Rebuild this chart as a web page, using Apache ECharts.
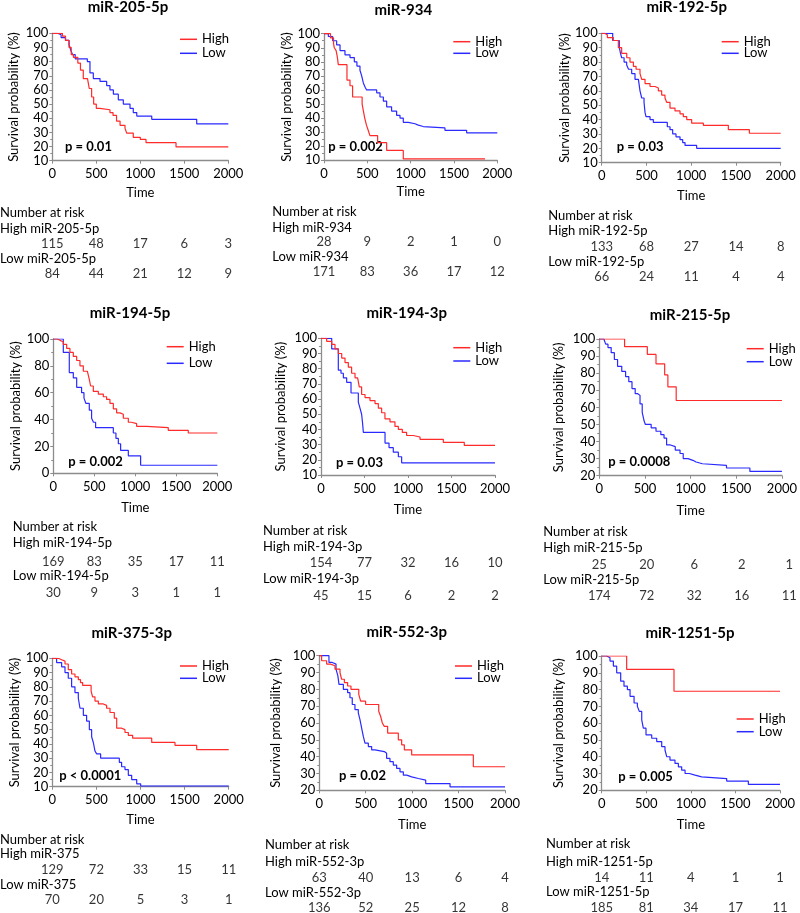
<!DOCTYPE html>
<html>
<head>
<meta charset="utf-8">
<script src="https://cdn.jsdelivr.net/npm/echarts@6/dist/echarts.min.js"></script>
<style>html,body{margin:0;padding:0;background:#fff}#c{width:800px;height:913px}</style>
</head>
<body>
<div id="c"></div>
<script>
// ---------- DATA ----------
const titles = ['miR-205-5p','miR-934','miR-192-5p','miR-194-5p','miR-194-3p','miR-215-5p','miR-375-3p','miR-552-3p','miR-1251-5p'];
const pValues = ['p = 0.01','p = 0.002','p = 0.03','p = 0.002','p = 0.03','p = 0.0008','p < 0.0001','p = 0.02','p = 0.005'];
const yMins = [10,10,10,0,10,20,10,20,20];
const yIntervals = [10,10,10,20,10,10,10,10,10];
const xTicks = [0,500,1000,1500,2000];
const riskTimes = [0,500,1000,1500,2000];
const highLabels = ['High miR-205-5p','High miR-934','High miR-192-5p','High miR-194-5p','High miR-194-3p','High miR-215-5p','High miR-375','High miR-552-3p','High miR-1251-5p'];
const lowLabels = ['Low miR-205-5p','Low miR-934','Low miR-192-5p','Low miR-194-5p','Low miR-194-3p','Low miR-215-5p','Low miR-375','Low miR-552-3p','Low miR-1251-5p'];

const high205 = [[0,100],[115,98],[150,95],[190,90],[215,85],[240,83],[290,79],[320,74],[352,68],[400,67],[420,61],[447,55],[470,50],[500,47],[540,46],[655,44],[690,42],[730,38],[770,35],[826,33],[845,29.5],[920,26.5],[1000,25],[1065,22.7],[1406,19.7],[2000,19.7]];
const low205 = [[0,100],[60,99],[100,97],[150,95],[190,92],[210,88],[230,85],[260,82],[398,80],[428,72],[466,68],[542,66],[618,63],[655,60],[694,57],[750,53],[807,50],[883,47],[920,44],[960,41.5],[1130,39.2],[1641,36],[2000,36]];
const high934 = [[0,100],[75,97],[110,93],[119,90],[140,88],[155,83],[165,78],[265,67],[300,63],[330,55],[440,50],[455,45],[470,40],[490,35],[512,31],[530,27.5],[619,22.5],[723,17],[915,11],[1858,11]];
const low934 = [[0,100],[50,98],[100,95],[146,92],[185,88],[242,85],[300,83],[350,80],[380,77],[415,74],[435,70],[454,65],[475,62],[492,60],[608,58],[646,55],[685,52],[723,48],[780,45],[838,42],[877,40],[915,37],[973,36],[1050,35],[1088,34],[1146,33],[1396,31.3],[1646,29.5],[2000,29.5]];
const high192 = [[0,100],[30,99],[63,97],[130,95],[186,90],[223,86],[280,83],[316,80],[354,77],[384,75],[428,72],[447,68],[484,65],[540,63],[596,62],[633,60],[670,57],[707,55],[726,52],[763,48],[819,46],[875,44],[912,42],[950,40],[1005,37.5],[1136,36],[1415,33],[1650,30.5],[2000,30.5]];
const low192 = [[0,100],[123,95],[197,90],[210,86],[223,83],[250,80],[279,78],[300,75],[335,72],[372,68],[410,67],[428,60],[447,55],[473,52],[484,45],[495,42],[540,40],[577,38],[733,35],[763,33],[793,30],[830,28],[875,26],[905,24],[931,22],[1061,20],[2000,20]];
const high1945 = [[0,100],[50,99],[81,98],[122,96],[163,93],[203,90],[244,87],[285,84],[325,80],[366,76],[415,75],[439,70],[455,65],[488,61],[549,59],[610,57],[650,55],[691,52],[732,48],[772,45],[813,44],[854,41],[915,38],[955,37],[1016,35],[1138,34],[1402,32],[1646,30],[2000,30]];
const low1945 = [[0,100],[122,90],[195,75],[244,71],[285,64],[345,60],[374,56],[398,52],[439,47],[467,41],[490,38],[516,34],[732,30],[764,26],[793,22],[821,17],[915,13],[1065,6],[2000,6]];
const high1943 = [[0,100],[65,98],[123,96],[161,93],[199,90],[238,87],[276,84],[314,81],[352,77],[391,74],[421,73],[440,68],[467,63],[506,61],[563,59],[621,57],[659,54],[697,51],[735,47],[793,45],[850,42],[889,40],[935,38],[984,36],[1061,35],[1138,33.5],[1406,31.5],[1647,29.5],[2000,29.5]];
const low1943 = [[0,100],[123,93],[199,79],[230,77],[257,74],[295,71],[345,64],[429,58],[448,54],[467,50],[478,44],[487,38],[736,31],[782,28],[831,25],[889,22],[927,18],[2000,18]];
const high215 = [[0,100],[277,95.5],[526,91],[621,85.5],[716,79],[751,72],[842,64],[2000,64]];
const low215 = [[0,100],[50,99],[70,97],[95,95],[130,92],[165,88],[200,84],[246,81],[288,78],[323,75],[358,71],[393,68],[421,67],[446,62],[470,57],[491,52],[505,50],[568,48],[621,46],[674,44],[709,42],[737,38],[779,37],[832,35],[884,33],[919,30],[972,29],[1025,28],[1060,27],[1130,26],[1393,24.5],[1649,22.5],[2000,22.5]];
const high375 = [[0,100],[68,99],[106,98],[144,96],[181,92],[219,89],[257,87],[295,85],[320,83],[344,81],[440,77],[457,73],[484,70],[522,68],[578,67],[616,65],[654,62],[703,58],[730,51],[786,50],[824,48],[862,46],[911,44],[1127,41],[1391,39],[1637,36],[2000,36]];
const low375 = [[0,100],[49,97],[106,94],[144,90],[181,86],[219,80],[257,76],[295,72],[314,65],[352,60],[389,56],[420,50],[446,45],[465,41],[484,35],[503,33],[548,30],[760,27],[786,24],[824,22],[862,18],[900,15],[957,12],[1002,10.5],[2000,10.5]];
const high552 = [[0,100],[25,97],[79,95],[120,94],[169,92],[223,90],[240,86],[270,84],[305,82],[341,80],[425,77],[445,73],[499,71],[640,67],[660,64],[679,60],[700,58],[736,54],[851,50],[887,47],[916,44],[995,41],[1659,34],[2000,34]];
const low552 = [[0,100],[104,96],[140,95],[180,92],[200,88],[212,83],[259,80],[305,78],[330,75],[355,71],[384,68],[420,66],[438,62],[456,57],[474,52],[492,48],[528,46],[564,44],[600,43],[700,42],[725,39],[761,37],[797,35],[833,33],[869,31],[905,29],[941,28],[995,27],[1067,26],[1146,24],[1408,22],[2000,22]];
const high1251 = [[0,100],[280,92],[811,79],[2000,79]];
const low1251 = [[0,100],[56,99],[93,97],[131,94],[168,90],[213,85],[250,82],[288,80],[318,76],[363,72],[400,70],[422,67],[449,62],[467,57],[497,53],[561,51],[617,49],[673,46],[710,44],[729,40],[766,38],[822,36],[860,34],[897,32],[935,30],[983,29],[1047,28],[1121,27],[1402,25.5],[1645,23.5],[2000,23.5]];

const riskHigh205 = [115,48,17,6,3],  riskLow205 = [84,44,21,12,9];
const riskHigh934 = [28,9,2,1,0],     riskLow934 = [171,83,36,17,12];
const riskHigh192 = [133,68,27,14,8], riskLow192 = [66,24,11,4,4];
const riskHigh1945 = [169,83,35,17,11], riskLow1945 = [30,9,3,1,1];
const riskHigh1943 = [154,77,32,16,10], riskLow1943 = [45,15,6,2,2];
const riskHigh215 = [25,20,6,2,1],    riskLow215 = [174,72,32,16,11];
const riskHigh375 = [129,72,33,15,11], riskLow375 = [70,20,5,3,1];
const riskHigh552 = [63,40,13,6,4],   riskLow552 = [136,52,25,12,8];
const riskHigh1251 = [14,11,4,1,1],   riskLow1251 = [185,81,34,17,11];

const highCurves = [high205,high934,high192,high1945,high1943,high215,high375,high552,high1251];
const lowCurves = [low205,low934,low192,low1945,low1943,low215,low375,low552,low1251];
const riskHigh = [riskHigh205,riskHigh934,riskHigh192,riskHigh1945,riskHigh1943,riskHigh215,riskHigh375,riskHigh552,riskHigh1251];
const riskLow = [riskLow205,riskLow934,riskLow192,riskLow1945,riskLow1943,riskLow215,riskLow375,riskLow552,riskLow1251];

// ---------- LAYOUT (positions only) ----------
const L = [
 {x0:52.3,x1:228.3,top:33.3,bot:160.7,tx:128,ty:7,nx:0,ny:213.3,hl:229.3,hn:244.3,ll:259.3,ln:274,lgx:180,lgy:39.3,lgs:14,px:65,py:146.7,yg:32,xg:26},
 {x0:324,x1:497.3,top:33.7,bot:160.3,tx:403.3,ty:10,nx:272.3,ny:212.3,hl:227.7,hn:242.3,ll:257.3,ln:271.7,lgx:453.3,lgy:41.7,lgs:11.6,px:328.3,py:146.7,yg:29,xg:25.5},
 {x0:601.7,x1:780.7,top:33.3,bot:162.7,tx:686.7,ty:7.3,nx:548.3,ny:216,hl:231,hn:246.7,ll:261.7,ln:276.7,lgx:721.7,lgy:41.7,lgs:11.6,px:616.7,py:146.7,yg:29.5,xg:26.5},
 {x0:53.3,x1:217.3,top:339,bot:473.3,tx:130,ty:313.3,nx:12.7,ny:526.7,hl:543.3,hn:561.7,ll:576,ln:593.3,lgx:166.7,lgy:346.7,lgs:16.6,px:68.3,py:461.7,yg:26,xg:28.5},
 {x0:321,x1:495,top:338.3,bot:475,tx:406.7,ty:313.3,nx:263,ny:530.7,hl:546.7,hn:563.3,ll:579.3,ln:596,lgx:453.3,lgy:347.7,lgs:13.3,px:336,py:463.3,yg:34,xg:28},
 {x0:599.3,x1:789.3,top:339,bot:475.7,tx:690,ty:315,nx:543.3,ny:531.7,hl:548.3,hn:565,ll:580,ln:596,lgx:746.7,lgy:348.7,lgs:13,px:608.3,py:462.3,yg:34,xg:28.5},
 {x0:52.3,x1:228.7,top:658.3,bot:786.7,tx:131.7,ty:633.3,nx:0,ny:840,hl:854.3,hn:870,ll:885,ln:900,lgx:180,lgy:666,lgs:12.3,px:59.3,py:776,yg:30,xg:27},
 {x0:319.3,x1:505,top:655.7,bot:790.3,tx:406.7,ty:632.3,nx:265,ny:845,hl:861.7,hn:877.7,ll:893.3,ln:908.3,lgx:455,lgy:666,lgs:12.3,px:339,py:776,yg:37,xg:28},
 {x0:601.7,x1:780,top:656,bot:790.3,tx:690,ty:633.3,nx:546,ny:844.3,hl:861.7,hn:877.7,ll:892.3,ln:908.3,lgx:736.7,lgy:719,lgs:12.7,px:618.3,py:776.7,yg:36,xg:28}
];

const FONT = 'Lato';
const FS = 13;
const RED = '#ff2a2a', BLUE = '#2a2aff', AXIS = '#8c8c8c';

const grid = [], xAxis = [], yAxis = [], series = [], legend = [], graphic = [];

L.forEach((p, i) => {
  grid.push({left:p.x0, top:p.top, width:p.x1-p.x0, height:p.bot-p.top, containLabel:false});
  xAxis.push({
    type:'value', gridIndex:i, min:0, max:2000, interval:500,
    name:'Time', nameLocation:'middle', nameGap:p.xg,
    nameTextStyle:{fontFamily:FONT, fontSize:FS, color:'#000'},
    axisLine:{show:true, lineStyle:{color:AXIS, width:1.3}},
    axisTick:{show:true, length:3, lineStyle:{color:AXIS}},
    axisLabel:{fontFamily:FONT, fontSize:FS, color:'#000', margin:7, formatter:(v)=>String(v)},
    splitLine:{show:false}
  });
  yAxis.push({
    type:'value', gridIndex:i, min:yMins[i], max:100, interval:yIntervals[i],
    name:'Survival probability (%)', nameLocation:'middle', nameGap:p.yg,
    nameTextStyle:{fontFamily:FONT, fontSize:FS, color:'#000'},
    axisLine:{show:true, lineStyle:{color:AXIS, width:1.3}},
    axisTick:{show:true, length:3, lineStyle:{color:AXIS}},
    minorTick:{show:true, splitNumber:2, length:2, lineStyle:{color:AXIS}},
    axisLabel:{fontFamily:FONT, fontSize:FS, color:'#000', margin:4},
    splitLine:{show:false}
  });
  series.push({
    name:'High', type:'line', step:'end', xAxisIndex:i, yAxisIndex:i,
    data:highCurves[i], showSymbol:false, symbol:'none',
    lineStyle:{color:RED, width:1.2}, itemStyle:{color:RED}, z:3
  });
  series.push({
    name:'Low', type:'line', step:'end', xAxisIndex:i, yAxisIndex:i,
    data:lowCurves[i], showSymbol:false, symbol:'none',
    lineStyle:{color:BLUE, width:1.2}, itemStyle:{color:BLUE}, z:2
  });
  legend.push({
    data:['High','Low'], orient:'vertical', left:p.lgx, top:p.lgy-7,
    itemWidth:17, itemHeight:1.5, icon:'rect', itemGap:p.lgs-14, padding:0,
    selectedMode:false,
    textStyle:{fontFamily:FONT, fontSize:FS, color:'#000', lineHeight:14}
  });
  graphic.push({type:'text', x:p.tx, y:p.ty, style:{text:titles[i], font:'bold 15px '+FONT, fill:'#000', textAlign:'center', textVerticalAlign:'middle'}});
  graphic.push({type:'text', x:p.px, y:p.py, style:{text:pValues[i], font:'bold 13px '+FONT, fill:'#000', textAlign:'left', textVerticalAlign:'middle'}});
  graphic.push({type:'text', x:p.nx, y:p.ny, style:{text:'Number at risk', font:FS+'px '+FONT, fill:'#000', textVerticalAlign:'middle'}});
  graphic.push({type:'text', x:p.nx, y:p.hl, style:{text:highLabels[i], font:FS+'px '+FONT, fill:'#000', textVerticalAlign:'middle'}});
  graphic.push({type:'text', x:p.nx, y:p.ll, style:{text:lowLabels[i], font:FS+'px '+FONT, fill:'#000', textVerticalAlign:'middle'}});
});

// risk-table grids (share the same time scale, hidden axes)
L.forEach((p, i) => {
  const gi = 9 + i;
  grid.push({left:p.x0, top:p.hn, width:p.x1-p.x0, height:p.ln-p.hn});
  xAxis.push({type:'value', gridIndex:gi, min:0, max:2000, show:false});
  yAxis.push({type:'value', gridIndex:gi, min:0, max:1, show:false});
  const d = [];
  riskTimes.forEach((t, k) => { d.push([t, 1, riskHigh[i][k]]); d.push([t, 0, riskLow[i][k]]); });
  series.push({
    name:'risk'+i, type:'scatter', xAxisIndex:gi, yAxisIndex:gi, data:d,
    symbolSize:2, itemStyle:{color:'rgba(255,255,255,0)'}, clip:false, silent:true,
    label:{show:true, position:'inside', formatter:(q)=>String(q.value[2]), fontFamily:FONT, fontSize:FS, color:'#000'},
    labelLayout:{hideOverlap:false}
  });
});

const chart = echarts.init(document.getElementById('c'), null, {renderer:'canvas'});
chart.setOption({animation:false, backgroundColor:'#fff', grid, xAxis, yAxis, series, legend, graphic});
</script>
</body>
</html>
